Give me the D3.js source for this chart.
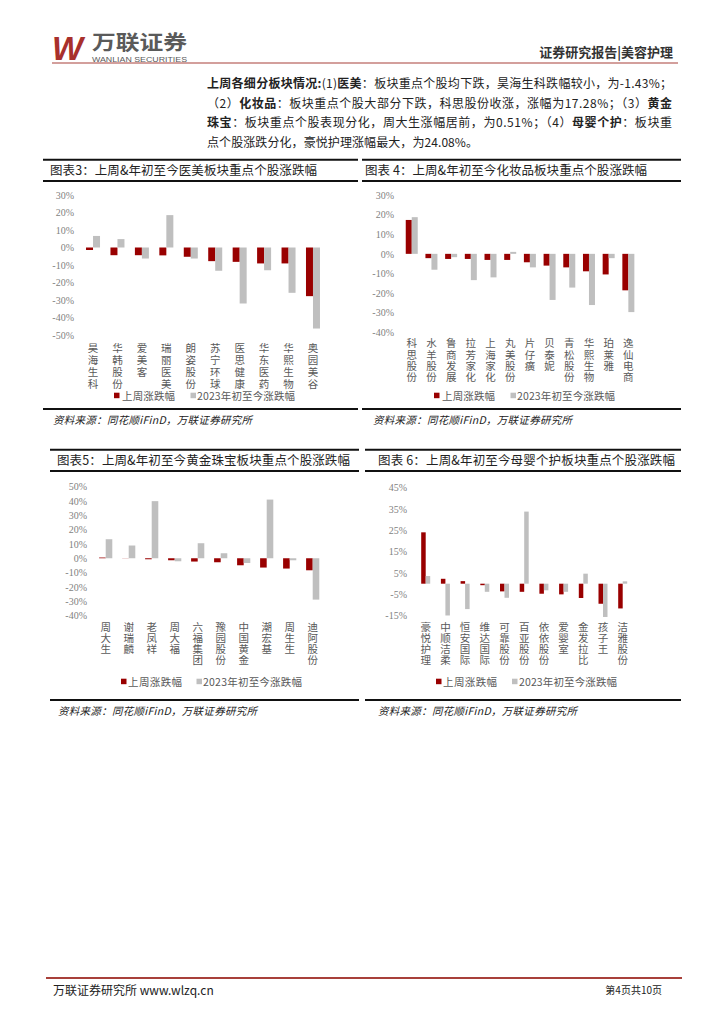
<!DOCTYPE html>
<html>
<head>
<meta charset="utf-8">
<script src="https://cdn.jsdelivr.net/npm/d3@7"></script>
<style>
body { margin: 0; background: #fff; }
svg { display: block; font-family: "Noto Sans CJK SC", sans-serif; }
</style>
</head>
<body>
<svg id="page" width="724" height="1024"></svg>
<script>
// 图表3 医美
const cats3 = ["昊海生科", "华韩股份", "爱美客", "瑞丽医美", "朗姿股份", "苏宁环球", "医思健康", "华东医药", "华熙生物", "奥园美谷"];
const week3 = [-1.43, -4.4, -4.4, -4.5, -5.3, -7.8, -8.2, -9.1, -9.1, -27.8];
const ytd3 = [6.6, 4.8, -6.3, 18.5, -6.3, -13.3, -32.0, -13.0, -25.9, -46.3];
const ticks3 = [30, 20, 10, 0, -10, -20, -30, -40, -50];

// 图表4 化妆品
const cats4 = ["科思股份", "水羊股份", "鲁商发展", "拉芳家化", "上海家化", "丸美股份", "片仔癀", "贝泰妮", "青松股份", "华熙生物", "珀莱雅", "逸仙电商"];
const week4 = [17.28, -2.2, -2.6, -2.6, -3.1, -3.1, -4.3, -6.0, -6.9, -8.9, -10.5, -18.6];
const ytd4 = [18.7, -8.1, -1.7, -13.4, -12.0, 1.0, -6.9, -23.5, -17.2, -26.1, -2.2, -29.7];
const ticks4 = [30, 20, 10, 0, -10, -20, -30, -40];

// 图表5 黄金珠宝
const cats5 = ["周大生", "谢瑞麟", "老凤祥", "周大福", "六福集团", "豫园股份", "中国黄金", "潮宏基", "周生生", "迪阿股份"];
const week5 = [0.51, 0.1, -0.7, -1.4, -2.3, -2.8, -4.9, -6.5, -7.2, -8.4];
const ytd5 = [13.3, 8.9, 39.9, -2.1, 10.5, 3.5, -3.3, 41.0, -1.4, -28.9];
const ticks5 = [50, 40, 30, 20, 10, 0, -10, -20, -30, -40];

// 图表6 母婴个护
const cats6 = ["豪悦护理", "中顺洁柔", "恒安国际", "维达国际", "可靠股份", "百亚股份", "依依股份", "爱婴室", "金发拉比", "孩子王", "洁雅股份"];
const week6 = [24.08, 2.3, 1.2, -0.7, -3.6, -3.8, -4.7, -5.0, -6.7, -9.4, -11.6];
const ytd6 = [3.6, -14.9, -11.9, -3.8, -6.6, 33.8, -3.1, -3.8, 4.7, -15.6, 1.1];
const ticks6 = [45, 35, 25, 15, 5, -5, -15];

const seriesNames = ["上周涨跌幅", "2023年初至今涨跌幅"];
const RED = "#990000", GRAY = "#bfbfbf";

const svg = d3.select("#page");

// ---- header
svg.append("text")
	.attr("x", 52).attr("y", 60)
	.attr("font-family", "Liberation Sans").attr("font-weight", "bold").attr("font-style", "italic")
	.attr("font-size", 34).attr("fill", "#a8302c")
	.attr("textLength", 31).attr("lengthAdjust", "spacingAndGlyphs")
	.text("W");
svg.append("text")
	.attr("x", 92).attr("y", 49.5)
	.attr("font-size", 20).attr("font-weight", "bold").attr("fill", "#5a5a5a")
	.attr("textLength", 95).attr("lengthAdjust", "spacingAndGlyphs")
	.text("万联证券");
svg.append("text")
	.attr("x", 92).attr("y", 61.5)
	.attr("font-family", "Liberation Sans").attr("font-size", 6.5).attr("fill", "#5a5a5a")
	.attr("textLength", 95).attr("lengthAdjust", "spacingAndGlyphs")
	.text("WANLIAN SECURITIES");
svg.append("text")
	.attr("x", 673).attr("y", 57).attr("text-anchor", "end")
	.attr("font-size", 13).attr("font-weight", "bold").attr("fill", "#333")
	.text("证券研究报告|美容护理");
svg.append("line")
	.attr("x1", 52).attr("x2", 678).attr("y1", 63).attr("y2", 63)
	.attr("stroke", "#a8403a").attr("stroke-width", 1.2);

// ---- paragraph
const paraLines = [
	[["上周各细分板块情况:", 1], ["(1)", 0], ["医美", 1], ["：板块重点个股均下跌，昊海生科跌幅较小，为-1.43%；", 0]],
	[["（2）", 0], ["化妆品", 1], ["：板块重点个股大部分下跌，科思股份收涨，涨幅为17.28%；（3）", 0], ["黄金", 1]],
	[["珠宝", 1], ["：板块重点个股表现分化，周大生涨幅居前，为0.51%；（4）", 0], ["母婴个护", 1], ["：板块重", 0]],
	[["点个股涨跌分化，豪悦护理涨幅最大，为24.08%。", 0]]
];
const paraW = [465, 465, 465, 271];
paraLines.forEach((line, i) => {
	const t = svg.append("text")
		.attr("x", 207).attr("y", 88 + i * 19.7)
		.attr("font-size", 12).attr("fill", "#222")
		.attr("textLength", paraW[i]).attr("lengthAdjust", "spacing");
	line.forEach(s => {
		t.append("tspan").attr("font-weight", s[1] ? "bold" : "normal").text(s[0]);
	});
});

// ---- panels
function panel(o) {
	const g = svg.append("g");

	// title box
	g.append("line").attr("x1", o.x0).attr("x2", o.x1).attr("y1", o.top).attr("y2", o.top)
		.attr("stroke", "#111").attr("stroke-width", 2);
	g.append("line").attr("x1", o.x0).attr("x2", o.x1).attr("y1", o.top + 21.3).attr("y2", o.top + 21.3)
		.attr("stroke", "#111").attr("stroke-width", 2);
	g.append("text")
		.attr("x", o.titleX).attr("y", o.top + 15.2)
		.attr("font-size", 12.5).attr("fill", "#222")
		.attr("textLength", o.titleW).attr("lengthAdjust", "spacing")
		.text(o.title);

	const y = d3.scaleLinear().domain(o.domain).range(o.yRange);
	const x = d3.scaleBand().domain(o.cats).range(o.xRange);
	const mid = d => x(d) + x.bandwidth() / 2;

	const ax = g.append("g")
		.attr("transform", `translate(${o.axisX},0)`)
		.call(d3.axisLeft(y).tickValues(o.ticks).tickSize(0).tickPadding(0).tickFormat(d => d + "%"));
	ax.select(".domain").remove();
	ax.selectAll("text")
		.attr("fill", "#7f7f7f")
		.attr("font-family", "Liberation Serif")
		.attr("font-size", 10);

	g.selectAll("rect.wk")
		.data(o.cats)
		.join("rect")
		.attr("class", "wk")
		.attr("x", d => mid(d) - o.barW)
		.attr("y", (d, i) => y(Math.max(0, o.week[i])))
		.attr("width", o.barW)
		.attr("height", (d, i) => Math.abs(y(o.week[i]) - y(0)))
		.attr("fill", RED);

	g.selectAll("rect.yt")
		.data(o.cats)
		.join("rect")
		.attr("class", "yt")
		.attr("x", d => mid(d))
		.attr("y", (d, i) => y(Math.max(0, o.ytd[i])))
		.attr("width", o.barW)
		.attr("height", (d, i) => Math.abs(y(o.ytd[i]) - y(0)))
		.attr("fill", GRAY);

	// vertical category names: one upright character per text, stacked
	const fs = 10.5;
	o.cats.forEach(c => {
		Array.from(c).forEach((ch, j) => {
			g.append("text")
				.attr("x", mid(c))
				.attr("y", o.labelY + j * o.labelStep - fs / 2)
				.style("writing-mode", "vertical-rl")
				.style("text-orientation", "upright")
				.attr("font-size", fs).attr("fill", "#595959")
				.text(ch);
		});
	});

	// legend
	const lg = o.legend;
	[RED, GRAY].forEach((col, k) => {
		g.append("rect")
			.attr("x", lg.sq[k]).attr("y", lg.y - 3)
			.attr("width", 5.5).attr("height", 5.5)
			.attr("fill", col);
		g.append("text")
			.attr("x", lg.tx[k]).attr("y", lg.y).attr("dominant-baseline", "central")
			.attr("font-size", 10.5).attr("fill", "#595959")
			.attr("textLength", lg.tw[k]).attr("lengthAdjust", "spacing")
			.text(seriesNames[k]);
	});

	// source
	g.append("line").attr("x1", o.x0).attr("x2", o.x1).attr("y1", o.srcLine).attr("y2", o.srcLine)
		.attr("stroke", "#111").attr("stroke-width", 1.8);
	g.append("text")
		.attr("x", o.srcX).attr("y", o.srcLine + 15)
		.attr("font-size", 10.5).attr("font-style", "italic").attr("fill", "#222")
		.attr("textLength", 199).attr("lengthAdjust", "spacing")
		.text("资料来源：同花顺iFinD，万联证券研究所");
}

panel({
	x0: 43, x1: 358, top: 159.7,
	title: "图表3：上周&年初至今医美板块重点个股涨跌幅", titleX: 50, titleW: 267,
	cats: cats3, week: week3, ytd: ytd3, ticks: ticks3,
	domain: [-50, 30], yRange: [335, 195], xRange: [80.8, 325.2], barW: 7, axisX: 74,
	labelY: 348, labelStep: 12,
	legend: { y: 395.7, sq: [114, 190.5], tx: [122, 197], tw: [53, 98] },
	srcLine: 409, srcX: 53
});

panel({
	x0: 362, x1: 681, top: 159.7,
	title: "图表 4：上周&年初至今化妆品板块重点个股涨跌幅", titleX: 365, titleW: 282,
	cats: cats4, week: week4, ytd: ytd4, ticks: ticks4,
	domain: [-40, 30], yRange: [332.3, 195], xRange: [401.9, 638.2], barW: 6, axisX: 394,
	labelY: 343.3, labelStep: 11.3,
	legend: { y: 395.7, sq: [434, 510.5], tx: [442, 517], tw: [53, 98] },
	srcLine: 409, srcX: 373
});

panel({
	x0: 50, x1: 359, top: 449.7,
	title: "图表5：上周&年初至今黄金珠宝板块重点个股涨跌幅", titleX: 57, titleW: 293,
	cats: cats5, week: week5, ytd: ytd5, ticks: ticks5,
	domain: [-40, 50], yRange: [615.5, 486.7], xRange: [94.2, 324.2], barW: 6.6, axisX: 87,
	labelY: 626.7, labelStep: 11.1,
	legend: { y: 681.7, sq: [121, 196.5], tx: [128, 203], tw: [54, 99] },
	srcLine: 700, srcX: 58
});

panel({
	x0: 365, x1: 681, top: 449.7,
	title: "图表 6：上周&年初至今母婴个护板块重点个股涨跌幅", titleX: 378, titleW: 297,
	cats: cats6, week: week6, ytd: ytd6, ticks: ticks6,
	domain: [-15, 45], yRange: [615.7, 487.7], xRange: [415.85, 632.55], barW: 4.5, axisX: 407,
	labelY: 626.7, labelStep: 11.1,
	legend: { y: 681.7, sq: [436, 512], tx: [443, 519], tw: [54, 98] },
	srcLine: 700, srcX: 378
});

// ---- footer
svg.append("line")
	.attr("x1", 46).attr("x2", 682).attr("y1", 978).attr("y2", 978)
	.attr("stroke", "#a8403a").attr("stroke-width", 2);
svg.append("text")
	.attr("x", 53).attr("y", 995)
	.attr("font-size", 12).attr("fill", "#222")
	.text("万联证券研究所 www.wlzq.cn");
svg.append("text")
	.attr("x", 662).attr("y", 994).attr("text-anchor", "end")
	.attr("font-size", 10).attr("fill", "#222")
	.text("第4页共10页");
</script>
</body>
</html>
